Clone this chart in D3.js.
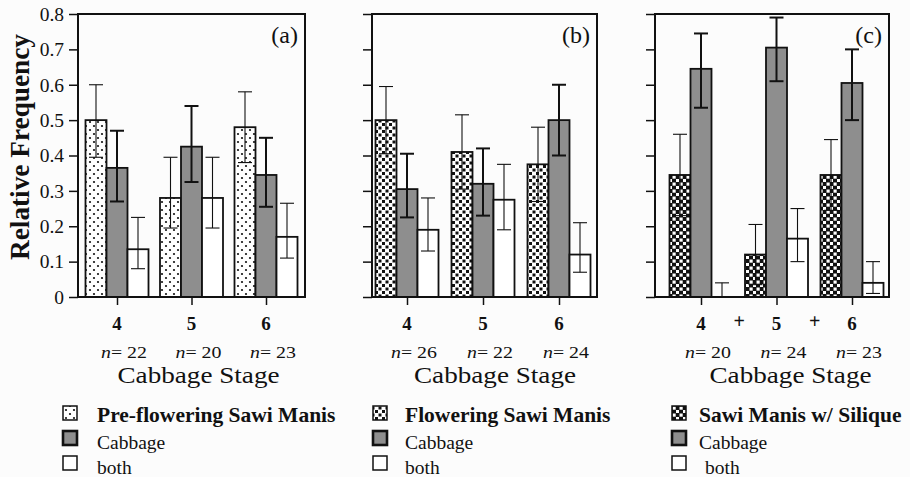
<!DOCTYPE html>
<html><head><meta charset="utf-8">
<script src="https://cdn.jsdelivr.net/npm/d3@7"></script>
<style>body{margin:0;background:#fff}svg{display:block}
svg text{font-family:"Liberation Serif", Tinos, "Noto Serif", "DejaVu Serif", serif;}</style>
</head><body><svg id="chart" width="910" height="477"></svg>
<script>
// ---------- data ----------
const stages = ["4", "5", "6"];
const yTicks = [0, 0.1, 0.2, 0.3, 0.4, 0.5, 0.6, 0.7, 0.8];
const panelLabels = ["(a)", "(b)", "(c)"];
const nLabels = [["22", "20", "23"], ["26", "22", "24"], ["20", "24", "23"]];
const sawiNames = ["Pre-flowering Sawi Manis", "Flowering Sawi Manis", "Sawi Manis w/ Silique"];
const otherNames = ["Cabbage", "both"];
const yTitle = "Relative Frequency";
const xTitle = "Cabbage Stage";

// panel (a)
const sawiA = [0.50, 0.28, 0.48], sawiAHi = [0.60, 0.395, 0.58], sawiALo = [0.395, 0.195, 0.38];
const cabA = [0.365, 0.425, 0.345], cabAHi = [0.47, 0.54, 0.45], cabALo = [0.27, 0.325, 0.255];
const bothA = [0.135, 0.28, 0.17], bothAHi = [0.225, 0.395, 0.265], bothALo = [0.08, 0.195, 0.11];
// panel (b)
const sawiB = [0.50, 0.41, 0.375], sawiBHi = [0.595, 0.515, 0.48], sawiBLo = [0.405, 0.305, 0.27];
const cabB = [0.305, 0.32, 0.50], cabBHi = [0.405, 0.42, 0.60], cabBLo = [0.225, 0.23, 0.40];
const bothB = [0.19, 0.275, 0.12], bothBHi = [0.28, 0.375, 0.21], bothBLo = [0.13, 0.19, 0.07];
// panel (c)
const sawiC = [0.345, 0.12, 0.345], sawiCHi = [0.46, 0.205, 0.445], sawiCLo = [0.23, 0.035, 0.245];
const cabC = [0.645, 0.705, 0.605], cabCHi = [0.745, 0.79, 0.70], cabCLo = [0.535, 0.61, 0.50];
const bothC = [0.0, 0.165, 0.04], bothCHi = [0.04, 0.25, 0.10], bothCLo = [0.0, 0.10, 0.01];

// ---------- layout ----------
const panels = [
  {frame: [78, 305], centers: [117, 266], fill: "url(#dots)", titleDx: 7,
   series: [[sawiA, sawiAHi, sawiALo], [cabA, cabAHi, cabALo], [bothA, bothAHi, bothALo]]},
  {frame: [372, 597], centers: [407, 559], fill: "url(#flower)", titleDx: 12,
   series: [[sawiB, sawiBHi, sawiBLo], [cabB, cabBHi, cabBLo], [bothB, bothBHi, bothBLo]]},
  {frame: [655, 889], centers: [701, 852], fill: "url(#silique)", titleDx: 14,
   series: [[sawiC, sawiCHi, sawiCLo], [cabC, cabCHi, cabCLo], [bothC, bothCHi, bothCLo]]}
];
const GRAY = "#8e8e8e";

const svg = d3.select("#chart");
svg.append("rect").attr("width", 910).attr("height", 477).attr("fill", "#fcfcfc");

const defs = svg.append("defs");
// dotted pattern
const pd = defs.append("pattern").attr("id", "dots").attr("patternUnits", "userSpaceOnUse")
  .attr("width", 8).attr("height", 8);
pd.append("rect").attr("width", 8).attr("height", 8).attr("fill", "#fff");
pd.append("circle").attr("cx", 2).attr("cy", 2).attr("r", 1.1).attr("fill", "#111");
pd.append("circle").attr("cx", 6).attr("cy", 6).attr("r", 1.1).attr("fill", "#111");
// flowering: black squares on white
const pf = defs.append("pattern").attr("id", "flower").attr("patternUnits", "userSpaceOnUse")
  .attr("width", 7).attr("height", 7);
pf.append("rect").attr("width", 7).attr("height", 7).attr("fill", "#fff");
pf.append("rect").attr("x", 0.5).attr("y", 0.5).attr("width", 3).attr("height", 3).attr("fill", "#111");
pf.append("rect").attr("x", 4).attr("y", 4).attr("width", 3).attr("height", 3).attr("fill", "#111");
// silique: white squares on black
const ps = defs.append("pattern").attr("id", "silique").attr("patternUnits", "userSpaceOnUse")
  .attr("width", 7).attr("height", 7);
ps.append("rect").attr("width", 7).attr("height", 7).attr("fill", "#111");
ps.append("rect").attr("x", 0.5).attr("y", 0.5).attr("width", 3.2).attr("height", 3.2).attr("fill", "#fff");
ps.append("rect").attr("x", 4).attr("y", 4).attr("width", 3.2).attr("height", 3.2).attr("fill", "#fff");

const y = d3.scaleLinear().domain([0, 0.8]).range([297, 14]);
const sub = d3.scaleBand().domain([0, 1, 2]).range([-31.5, 31.5]);

panels.forEach((p, pi) => {
  const g = svg.append("g");
  const x = d3.scalePoint().domain(stages).range(p.centers);
  const fills = [p.fill, GRAY, "#fff"];

  // y axis ticks
  const ya = g.append("g").attr("transform", `translate(${p.frame[0]},0)`)
    .call(d3.axisLeft(y).tickValues(yTicks).tickSize(9).tickSizeOuter(0)
      .tickFormat(pi === 0 ? (d => d === 0 ? "0" : d.toFixed(1)) : ""));
  ya.attr("font-family", null);
  ya.select(".domain").remove();
  ya.selectAll("line").attr("stroke", "#111").attr("stroke-width", 1.5);
  ya.selectAll("text").attr("font-size", 19.5).attr("fill", "#111").attr("dx", "-2px");

  // x axis ticks
  const xa = g.append("g").attr("transform", `translate(0,${y(0)})`)
    .call(d3.axisBottom(x).tickSize(8).tickSizeOuter(0).tickFormat(""));
  xa.select(".domain").remove();
  xa.selectAll("line").attr("stroke", "#111").attr("stroke-width", 1.5);

  // bars
  p.series.forEach((s, si) => {
    const [vals, hi, lo] = s;
    const bars = g.append("g");
    bars.selectAll("rect").data(stages).join("rect")
      .attr("x", (d, i) => x(d) + sub(si))
      .attr("y", (d, i) => y(vals[i]))
      .attr("width", sub.bandwidth())
      .attr("height", (d, i) => y(0) - y(vals[i]))
      .attr("fill", fills[si]).attr("stroke", "#111").attr("stroke-width", 1.8);
    // error bars
    const eb = g.append("g").attr("stroke", "#111")
      .attr("stroke-width", si === 1 ? 2 : 1.1);
    stages.forEach((d, i) => {
      const cx = x(d) + sub(si) + sub.bandwidth() / 2;
      eb.append("line").attr("x1", cx).attr("x2", cx).attr("y1", y(hi[i])).attr("y2", y(lo[i]));
      eb.append("line").attr("x1", cx - 7).attr("x2", cx + 7).attr("y1", y(hi[i])).attr("y2", y(hi[i]));
      if (lo[i] > 0.005)
        eb.append("line").attr("x1", cx - 7).attr("x2", cx + 7).attr("y1", y(lo[i])).attr("y2", y(lo[i]));
    });
  });

  // frame
  g.append("rect").attr("x", p.frame[0]).attr("y", y(0.8))
    .attr("width", p.frame[1] - p.frame[0]).attr("height", y(0) - y(0.8))
    .attr("fill", "none").attr("stroke", "#111").attr("stroke-width", 2);

  // panel label
  g.append("text").attr("x", p.frame[1] - 7).attr("y", 43).attr("text-anchor", "end")
    .attr("font-size", 24).attr("fill", "#111").text(panelLabels[pi]);

  // stage labels
  g.selectAll(".stg").data(stages).join("text")
    .attr("x", d => x(d)).attr("y", 330).attr("text-anchor", "middle")
    .attr("font-size", 19).attr("font-weight", "bold").attr("fill", "#111").text(d => d);
  if (pi === 2) {
    [0, 1].forEach(i => {
      g.append("text").attr("x", (x(stages[i]) + x(stages[i + 1])) / 2 + 0.5).attr("y", 328)
        .attr("text-anchor", "middle").attr("font-size", 20).attr("font-weight", "bold")
        .attr("fill", "#111").text("+");
    });
  }
  // n labels
  const nt = g.selectAll(".nl").data(stages).join("text")
    .attr("x", (d, i) => x(d) + 7).attr("y", 358).attr("text-anchor", "middle")
    .attr("font-size", 17).attr("fill", "#111")
    .attr("textLength", 46).attr("lengthAdjust", "spacingAndGlyphs");
  nt.append("tspan").attr("font-style", "italic").text("n");
  nt.append("tspan").text((d, i) => "= " + nLabels[pi][i]);

  // x title
  g.append("text").attr("x", x(stages[1]) + p.titleDx).attr("y", 383).attr("text-anchor", "middle")
    .attr("font-size", 23).attr("fill", "#111")
    .attr("textLength", 162).attr("lengthAdjust", "spacingAndGlyphs").text(xTitle);

  // legend
  const lx = [63, 373, 672][pi];
  const ltx = [97, 405, 699][pi];
  const rows = [
    {fill: p.fill, sw: 1.5, name: sawiNames[pi], bold: true, sy: 406, ty: 422, dx: 0},
    {fill: GRAY, sw: 2.6, name: otherNames[0], bold: false, sy: 431, ty: 449, dx: 0},
    {fill: "#fff", sw: 1.5, name: otherNames[1], bold: false, sy: 456, ty: 474, dx: pi === 2 ? 6 : 0}
  ];
  rows.forEach(r => {
    g.append("rect").attr("x", lx).attr("y", r.sy).attr("width", 14).attr("height", 14)
      .attr("fill", r.fill).attr("stroke", "#111").attr("stroke-width", r.sw);
    g.append("text").attr("x", ltx + r.dx).attr("y", r.ty).attr("font-size", r.bold ? 21.5 : 19.5)
      .attr("font-weight", r.bold ? "bold" : "normal").attr("fill", "#111").text(r.name);
  });
});

// y title
svg.append("text").attr("transform", "translate(29,147) scale(1.12,1) rotate(-90)").attr("text-anchor", "middle")
  .attr("font-size", 25).attr("font-weight", "bold").attr("fill", "#111")
  .attr("textLength", 226).attr("lengthAdjust", "spacingAndGlyphs").text(yTitle);
</script></body></html>
